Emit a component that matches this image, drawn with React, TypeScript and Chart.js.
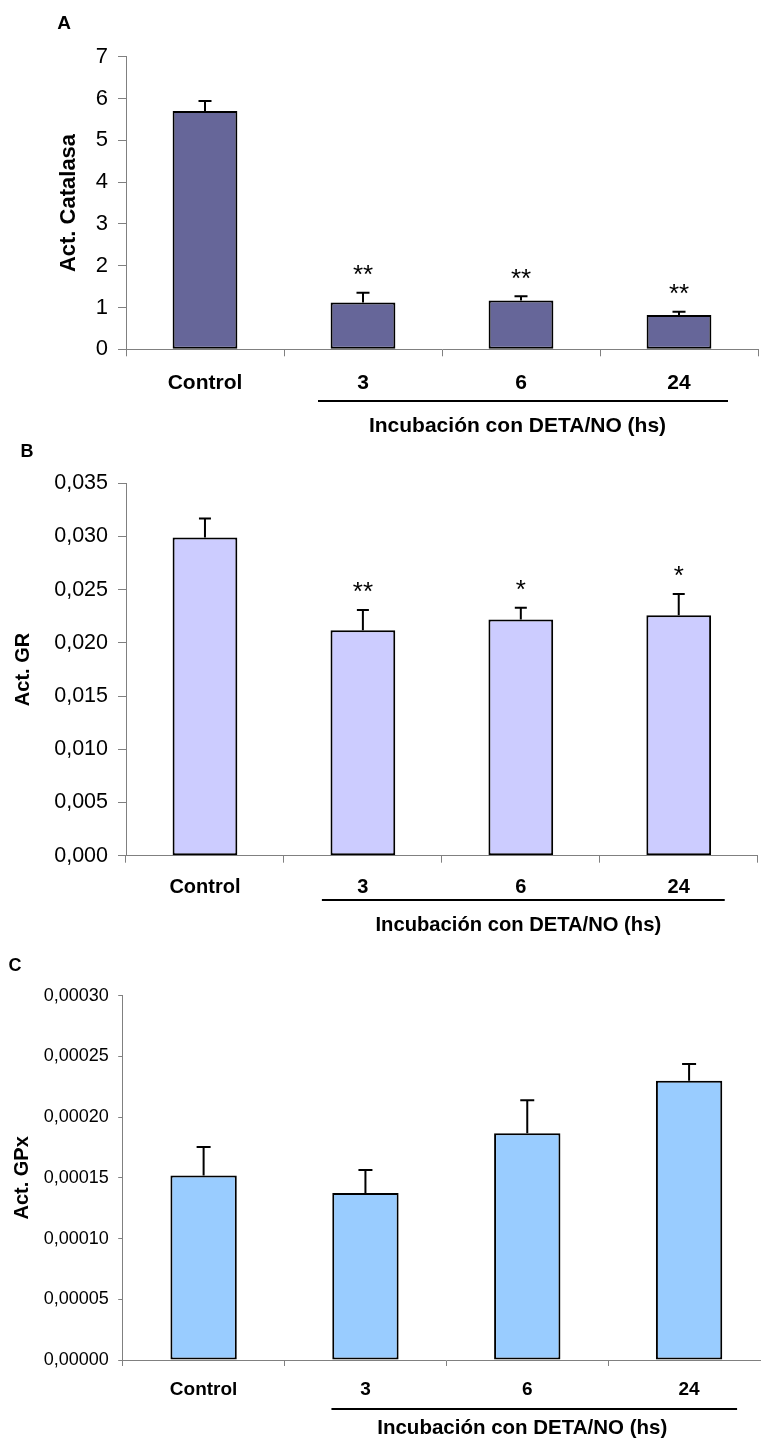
import { useEffect, useRef } from 'react';
import { Chart, registerables } from 'chart.js';

Chart.register(...registerables);

const FONT = '"Liberation Sans", Arial, Helvetica, sans-serif';

const categories = ['Control', '3', '6', '24'];
const groupTitle = 'Incubación con DETA/NO (hs)';

// A – catalase activity
const catalasaMean = [5.7, 1.12, 1.17, 0.82];
const catalasaSem = [0.24, 0.23, 0.1, 0.08];
const catalasaSig = ['', '**', '**', '**'];
const catalasaTicks = [0, 1, 2, 3, 4, 5, 6, 7];
const catalasaTickLabels = ['0', '1', '2', '3', '4', '5', '6', '7'];

// B – glutathione reductase activity
const grMean = [0.0299, 0.0212, 0.0222, 0.0226];
const grSem = [0.0018, 0.0019, 0.0011, 0.002];
const grSig = ['', '**', '*', '*'];
const grTicks = [0, 0.005, 0.01, 0.015, 0.02, 0.025, 0.03, 0.035];
const grTickLabels = ['0,000', '0,005', '0,010', '0,015', '0,020', '0,025', '0,030', '0,035'];

// C – glutathione peroxidase activity
const gpxMean = [0.000152, 0.0001375, 0.0001867, 0.00023];
const gpxSem = [0.0000235, 0.000019, 0.0000272, 0.0000138];
const gpxSig = ['', '', '', ''];
const gpxTicks = [0, 0.00005, 0.0001, 0.00015, 0.0002, 0.00025, 0.0003];
const gpxTickLabels = ['0,00000', '0,00005', '0,00010', '0,00015', '0,00020', '0,00025', '0,00030'];

type Layout = {
  top: number;
  width: number;
  height: number;
  left: number;
  right: number;
  areaTop: number;
  areaBottom: number;
  letterX: number;
  letterY: number;
  letterSize: number;
  titleSize: number;
  titleCenterX: number;
  tickSize: number;
  yTickLen: number;
  yTickPad: number;
  catSize: number;
  xTickLen: number;
  xTickPad: number;
  groupSize: number;
  groupY: number;
  groupDx: number;
  lineY: number;
  lineFrom: number;
  lineTo: number;
  capWidth: number;
  starSize: number;
  starGap: number;
};

type PanelProps = {
  letter: string;
  yTitle: string;
  fill: string;
  mean: number[];
  sem: number[];
  sig: string[];
  ticks: number[];
  tickLabels: string[];
  lay: Layout;
};

function Panel({ letter, yTitle, fill, mean, sem, sig, ticks, tickLabels, lay }: PanelProps) {
  const ref = useRef<HTMLCanvasElement | null>(null);

  useEffect(() => {
    if (!ref.current) return;

    const overlay = {
      id: 'overlay',
      afterDatasetsDraw(chart: any) {
        const ctx = chart.ctx as CanvasRenderingContext2D;
        const meta = chart.getDatasetMeta(0);
        const ys = chart.scales.y;
        const xs = chart.scales.x;
        ctx.save();
        ctx.strokeStyle = '#000';
        ctx.fillStyle = '#000';
        ctx.lineWidth = 2;
        // error bars (upper half) and significance marks
        meta.data.forEach((bar: any, i: number) => {
          const top = ys.getPixelForValue(mean[i] + sem[i]);
          ctx.beginPath();
          ctx.moveTo(bar.x, bar.y);
          ctx.lineTo(bar.x, top);
          ctx.moveTo(bar.x - lay.capWidth / 2, top);
          ctx.lineTo(bar.x + lay.capWidth / 2, top);
          ctx.stroke();
          if (sig[i]) {
            ctx.font = `${lay.starSize}px ${FONT}`;
            ctx.textAlign = 'center';
            ctx.textBaseline = 'alphabetic';
            ctx.fillText(sig[i], bar.x, top - lay.starGap);
          }
        });
        // bracket line under the treated groups
        const c1 = xs.getPixelForValue(1);
        const c2 = xs.getPixelForValue(2);
        const c3 = xs.getPixelForValue(3);
        ctx.beginPath();
        ctx.moveTo(c1 + lay.lineFrom, lay.lineY);
        ctx.lineTo(c3 + lay.lineTo, lay.lineY);
        ctx.stroke();
        ctx.font = `bold ${lay.groupSize}px ${FONT}`;
        ctx.textAlign = 'center';
        ctx.textBaseline = 'middle';
        ctx.fillText(groupTitle, c2 + lay.groupDx, lay.groupY);
        // panel letter
        ctx.font = `bold ${lay.letterSize}px ${FONT}`;
        ctx.fillText(letter, lay.letterX, lay.letterY);
        ctx.restore();
      },
    };

    const chart = new Chart(ref.current, {
      type: 'bar',
      data: {
        labels: categories,
        datasets: [
          {
            data: mean,
            backgroundColor: fill,
            borderColor: '#000',
            borderWidth: 2,
            borderSkipped: false,
            barPercentage: 0.41,
            categoryPercentage: 1,
          },
        ],
      },
      options: {
        responsive: false,
        animation: false,
        devicePixelRatio: 1,
        layout: {
          padding: { left: 0, top: lay.areaTop, right: lay.width - lay.right, bottom: 0 },
        },
        plugins: {
          legend: { display: false },
          tooltip: { enabled: false },
        },
        scales: {
          x: {
            offset: true,
            grid: {
              offset: true,
              drawOnChartArea: false,
              drawTicks: true,
              tickLength: lay.xTickLen,
              color: '#808080',
              lineWidth: 1,
            },
            border: { display: true, color: '#808080', width: 1 },
            ticks: {
              color: '#000',
              padding: lay.xTickPad,
              font: { family: FONT, size: lay.catSize, weight: 'bold' },
              maxRotation: 0,
            },
            afterFit: (s: any) => {
              s.height = lay.height - lay.areaBottom;
            },
          },
          y: {
            min: ticks[0],
            max: ticks[ticks.length - 1],
            grid: {
              drawOnChartArea: false,
              drawTicks: true,
              tickLength: lay.yTickLen,
              color: '#808080',
              lineWidth: 1,
            },
            border: { display: true, color: '#808080', width: 1 },
            afterBuildTicks: (s: any) => {
              s.ticks = ticks.map((v) => ({ value: v }));
            },
            ticks: {
              color: '#000',
              padding: lay.yTickPad,
              font: { family: FONT, size: lay.tickSize },
              callback: (_v: any, i: number) => tickLabels[i],
            },
            title: {
              display: true,
              text: yTitle,
              color: '#000',
              font: { family: FONT, size: lay.titleSize, weight: 'bold', lineHeight: 1.2 },
              padding: { top: lay.titleCenterX - (lay.titleSize * 1.2) / 2, bottom: 0 },
            },
            afterFit: (s: any) => {
              s.width = lay.left;
            },
          },
        },
      },
      plugins: [overlay],
    } as any);

    return () => chart.destroy();
  }, []);

  return (
    <canvas
      ref={ref}
      width={lay.width}
      height={lay.height}
      style={{ position: 'absolute', left: 0, top: lay.top, width: lay.width, height: lay.height }}
    />
  );
}

const layoutA: Layout = {
  top: 0, width: 761, height: 440,
  left: 126, right: 758, areaTop: 56.7, areaBottom: 349.3,
  letterX: 64, letterY: 24, letterSize: 19,
  titleSize: 22, titleCenterX: 68.5,
  tickSize: 22, yTickLen: 8, yTickPad: 10,
  catSize: 21, xTickLen: 7, xTickPad: 14,
  groupSize: 21, groupY: 426, groupDx: -3.5,
  lineY: 401, lineFrom: -45, lineTo: 49,
  capWidth: 13, starSize: 26, starGap: 9.5,
};

const layoutB: Layout = {
  top: 440, width: 761, height: 500,
  left: 126, right: 757.7, areaTop: 43.3, areaBottom: 415.7,
  letterX: 27, letterY: 12, letterSize: 18,
  titleSize: 20, titleCenterX: 23,
  tickSize: 21.5, yTickLen: 8, yTickPad: 10,
  catSize: 20, xTickLen: 7, xTickPad: 12.7,
  groupSize: 20.2, groupY: 485.7, groupDx: -2.5,
  lineY: 460, lineFrom: -41, lineTo: 46,
  capWidth: 12, starSize: 26, starGap: 9.5,
};

const layoutC: Layout = {
  top: 940, width: 780, height: 499,
  left: 122.7, right: 770, areaTop: 55.7, areaBottom: 420,
  letterX: 15, letterY: 26, letterSize: 18,
  titleSize: 20, titleCenterX: 22.5,
  tickSize: 18, yTickLen: 4.5, yTickPad: 9.4,
  catSize: 19, xTickLen: 6, xTickPad: 12.6,
  groupSize: 20.5, groupY: 488, groupDx: -5,
  lineY: 469, lineFrom: -34, lineTo: 48,
  capWidth: 14, starSize: 26, starGap: 9.5,
};

export default function App() {
  return (
    <div
      style={{
        position: 'absolute',
        left: 0,
        top: 0,
        width: 761,
        height: 1439,
        overflow: 'hidden',
        background: '#fff',
      }}
    >
      <Panel
        letter="A"
        yTitle="Act. Catalasa"
        fill="#666699"
        mean={catalasaMean}
        sem={catalasaSem}
        sig={catalasaSig}
        ticks={catalasaTicks}
        tickLabels={catalasaTickLabels}
        lay={layoutA}
      />
      <Panel
        letter="B"
        yTitle="Act. GR"
        fill="#CCCCFF"
        mean={grMean}
        sem={grSem}
        sig={grSig}
        ticks={grTicks}
        tickLabels={grTickLabels}
        lay={layoutB}
      />
      <Panel
        letter="C"
        yTitle="Act. GPx"
        fill="#99CCFF"
        mean={gpxMean}
        sem={gpxSem}
        sig={gpxSig}
        ticks={gpxTicks}
        tickLabels={gpxTickLabels}
        lay={layoutC}
      />
    </div>
  );
}
